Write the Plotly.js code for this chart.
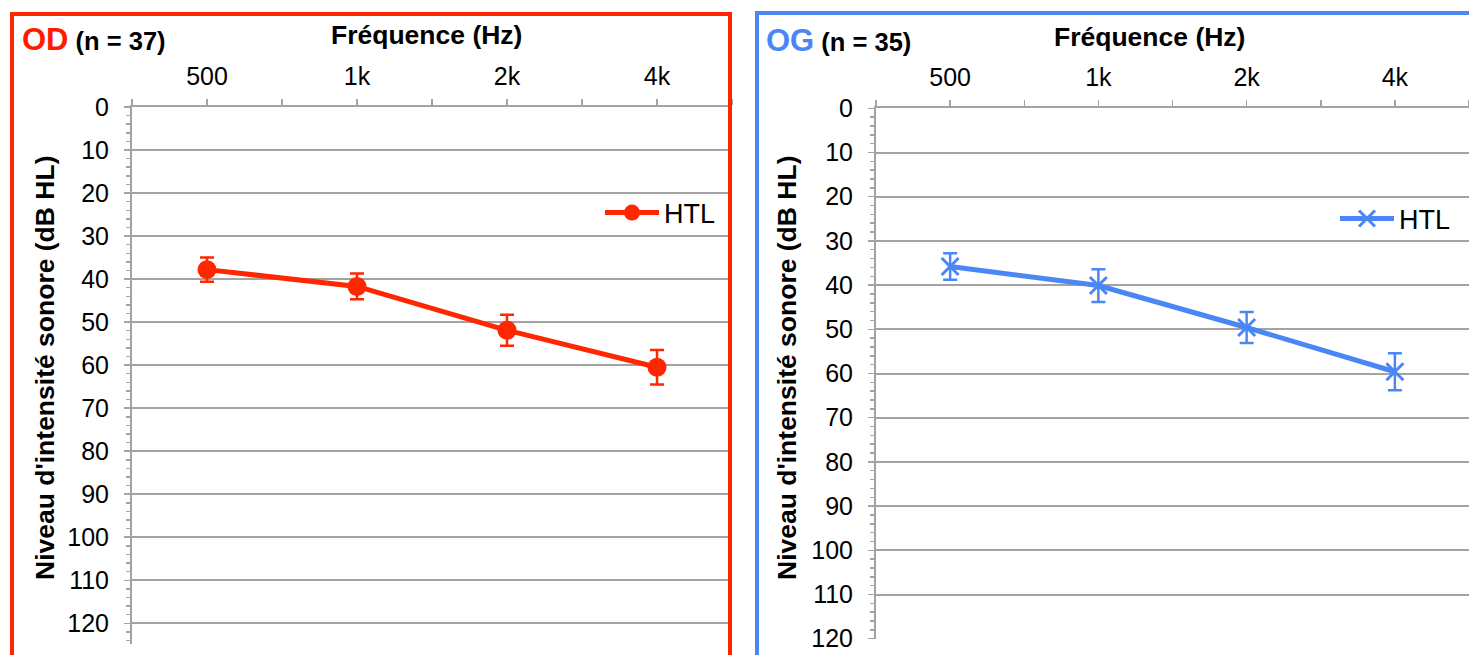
<!DOCTYPE html>
<html>
<head>
<meta charset="utf-8">
<script src="https://cdn.plot.ly/plotly-3.0.1.min.js"></script>
<style>
  html, body { margin: 0; padding: 0; background: #ffffff; }
  #chart { width: 1469px; height: 655px; }
</style>
</head>
<body>
<div id="chart"></div>
<script>
// ---- data ----
const freqLabels = ['500', '1k', '2k', '4k'];
const odMean = [37.8, 41.7, 51.9, 60.5];
const odErr  = [2.8, 3.0, 3.6, 4.0];
const ogMean = [35.8, 40.1, 49.6, 59.6];
const ogErr  = [3.0, 3.7, 3.5, 4.2];
const seriesName = 'HTL';
const odTitle = 'OD';
const odN = '(n = 37)';
const ogTitle = 'OG';
const ogN = '(n = 35)';
const xTitle = 'Fréquence (Hz)';
const yTitle = "Niveau d'intensité sonore (dB HL)";

// ---- helpers ----
const W = 1469, H = 655;
const px = x => x / W;
const py = y => 1 - y / H;
const idx = freqLabels.map((_, i) => i);
const bounds = [-0.5].concat(idx.map(i => i + 0.5));

const FONT = 'Liberation Sans, Arial, Helvetica, sans-serif';
const RED = '#ff2600';
const BLUE = '#4a86f5';
const GRAY = '#a3a3a3';

function xAxis(domain, anchor) {
  return {
    domain: domain, anchor: anchor, side: 'top',
    range: [-0.5, freqLabels.length - 0.5],
    tickmode: 'array', tickvals: idx, ticktext: freqLabels,
    ticks: 'outside', ticklen: 6, tickwidth: 1.5, tickcolor: GRAY,
    minor: { tickmode: 'array', tickvals: bounds, ticks: 'outside', ticklen: 6, tickwidth: 1.5, tickcolor: GRAY, showgrid: false },
    showline: true, linecolor: GRAY, linewidth: 2,
    showgrid: false, zeroline: false,
    tickfont: { family: FONT, size: 25, color: '#000' },
    ticklabelstandoff: 4,
    fixedrange: true
  };
}
function yAxis(domain, anchor, maxVal) {
  return {
    domain: domain, anchor: anchor,
    range: [maxVal, 0],
    tick0: 0, dtick: 10,
    ticks: 'outside', ticklen: 6, tickwidth: 1.5, tickcolor: GRAY,
    minor: { dtick: 2, ticks: 'outside', ticklen: 4, tickwidth: 1.5, tickcolor: GRAY, showgrid: false },
    showline: true, linecolor: GRAY, linewidth: 2,
    showgrid: true, gridcolor: GRAY, gridwidth: 2,
    zeroline: false,
    tickfont: { family: FONT, size: 25, color: '#000' },
    ticklabelstandoff: 10,
    fixedrange: true
  };
}

const traces = [
  {
    x: idx, y: odMean, name: seriesName, type: 'scatter', mode: 'lines+markers',
    xaxis: 'x', yaxis: 'y', legend: 'legend',
    line: { color: RED, width: 5 },
    marker: { symbol: 'circle', size: 19, color: RED },
    error_y: { type: 'data', array: odErr, visible: true, color: RED, thickness: 2.5, width: 7 }
  },
  {
    x: idx, y: ogMean, name: seriesName, type: 'scatter', mode: 'lines+markers',
    xaxis: 'x2', yaxis: 'y2', legend: 'legend2',
    line: { color: BLUE, width: 5 },
    marker: { symbol: 'x-thin', size: 17, color: BLUE, line: { color: BLUE, width: 3 } },
    error_y: { type: 'data', array: ogErr, visible: true, color: BLUE, thickness: 2.5, width: 7 }
  }
];

const legendBase = {
  xanchor: 'left', yanchor: 'middle',
  bgcolor: 'rgba(0,0,0,0)', borderwidth: 0,
  itemwidth: 54,
  font: { family: FONT, size: 27, color: '#000' }
};

const layout = {
  width: W, height: H,
  margin: { l: 0, r: 0, t: 0, b: 0, pad: 0 },
  paper_bgcolor: '#ffffff', plot_bgcolor: '#ffffff',
  showlegend: true,
  xaxis: xAxis([px(132), px(732)], 'y'),
  yaxis: yAxis([py(643.5), py(107)], 'x', 124.7),
  xaxis2: xAxis([px(876), 1], 'y2'),
  yaxis2: yAxis([py(638.7), py(108.3)], 'x2', 120),
  legend: Object.assign({}, legendBase, { x: px(600), y: py(213) }),
  legend2: Object.assign({}, legendBase, { x: px(1335), y: py(219) }),
  shapes: [
    { type: 'rect', xref: 'paper', yref: 'paper', x0: px(12), x1: px(730), y0: -0.2, y1: py(14),
      line: { color: RED, width: 4 }, fillcolor: 'rgba(0,0,0,0)', layer: 'above' },
    { type: 'rect', xref: 'paper', yref: 'paper', x0: px(757), x1: 1.2, y0: -0.2, y1: py(13),
      line: { color: BLUE, width: 4 }, fillcolor: 'rgba(0,0,0,0)', layer: 'above' }
  ],
  annotations: [
    { xref: 'paper', yref: 'paper', x: px(20), y: py(40), xanchor: 'left', yanchor: 'middle', showarrow: false,
      text: '<b><span style="color:#ff1a00;font-size:31px">' + odTitle + '</span> ' + odN + '</b>',
      font: { family: FONT, size: 25.5, color: '#000' } },
    { xref: 'paper', yref: 'paper', x: px(764), y: py(41), xanchor: 'left', yanchor: 'middle', showarrow: false,
      text: '<b><span style="color:' + BLUE + ';font-size:31px">' + ogTitle + '</span> ' + ogN + '</b>',
      font: { family: FONT, size: 25.5, color: '#000' } },
    { xref: 'paper', yref: 'paper', x: px(426), y: py(35), xanchor: 'center', yanchor: 'middle', showarrow: false,
      text: '<b>' + xTitle + '</b>', font: { family: FONT, size: 26.5, color: '#000' } },
    { xref: 'paper', yref: 'paper', x: px(1149), y: py(37), xanchor: 'center', yanchor: 'middle', showarrow: false,
      text: '<b>' + xTitle + '</b>', font: { family: FONT, size: 26.5, color: '#000' } },
    { xref: 'paper', yref: 'paper', x: px(45), y: py(368), xanchor: 'center', yanchor: 'middle', showarrow: false,
      textangle: -90, text: '<b>' + yTitle + '</b>', font: { family: FONT, size: 26.5, color: '#000' } },
    { xref: 'paper', yref: 'paper', x: px(787), y: py(368), xanchor: 'center', yanchor: 'middle', showarrow: false,
      textangle: -90, text: '<b>' + yTitle + '</b>', font: { family: FONT, size: 26.5, color: '#000' } }
  ]
};

Plotly.newPlot('chart', traces, layout, { staticPlot: true, displayModeBar: false });
</script>
</body>
</html>
